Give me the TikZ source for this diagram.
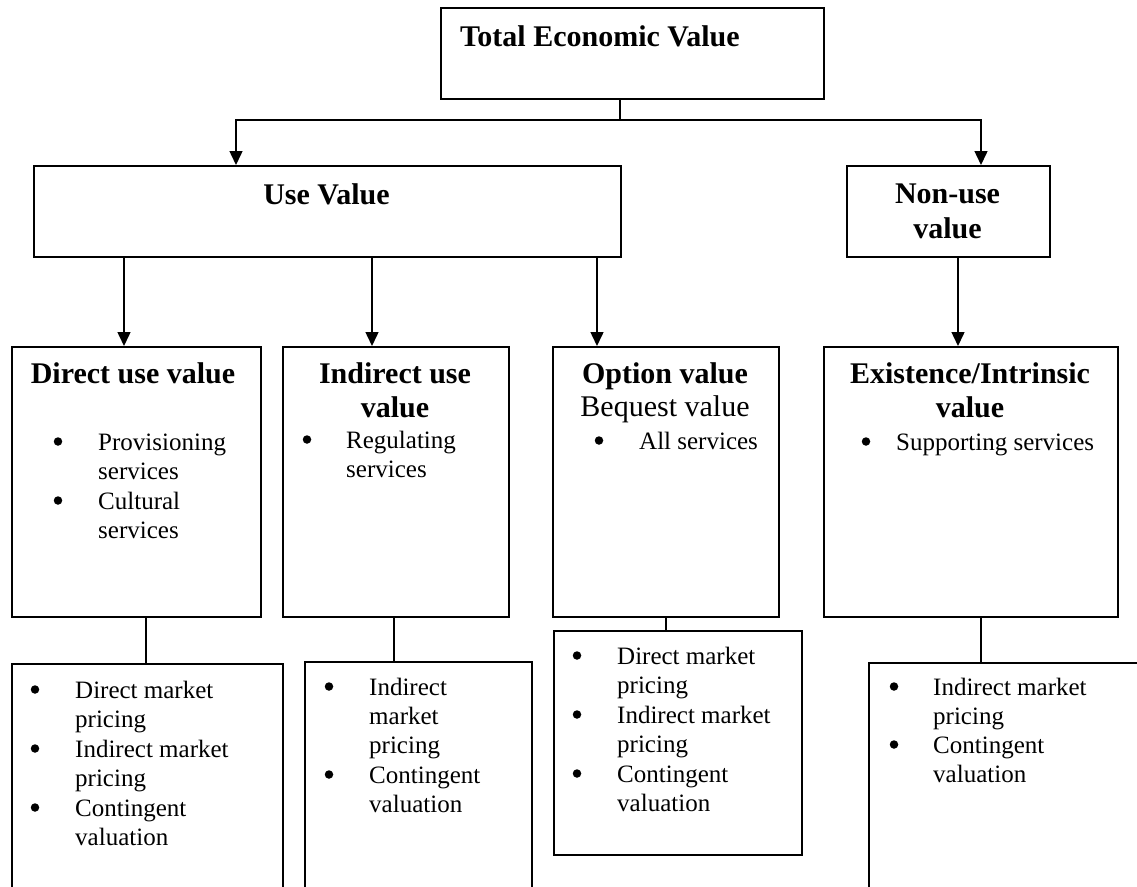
\documentclass[tikz,border=0pt]{standalone}
\usepackage{fontspec}
\setmainfont{Liberation Serif}
\usetikzlibrary{arrows.meta}

% type sizes: bold headings and plain body text
\newcommand\headfont{\fontsize{30}{34.5}\selectfont\bfseries}
\newcommand\plainbig{\fontsize{30}{34.5}\selectfont}
\newcommand\bodyfont{\fontsize{25}{29.3}\selectfont}

% a bulleted item: name, bullet x, text x, first baseline, lines
\newcommand\bitem[5]{%
  \node[dot] (#1-b) at (#2,{#4-8.5}) {};
  \foreach \ln [count=\k from 0] in {#5}{%
    \node[bodytxt, anchor=base west] (#1-\k) at (#3,{#4+\k*29.3}) {\ln};}%
}

% a box given by its top-left and bottom-right corners
\newcommand\boxnode[5]{%
  \node[box, anchor=north west, minimum width={#4-#2}, minimum height={#5-#3}] (#1) at (#2,#3) {};%
}

\begin{document}
\begin{tikzpicture}[x=1pt, y=-1pt,
  box/.style={draw=black, line width=1.5pt, inner sep=0pt, fill=none},
  link/.style={draw=black, line width=1.5pt},
  arr/.style={link, -{Triangle[width=13pt,length=14pt]}},
  headtxt/.style={inner sep=0pt, font=\headfont, anchor=base},
  bodytxt/.style={inner sep=0pt, font=\bodyfont},
  dot/.style={circle, fill=black, inner sep=0pt, minimum size=8.5pt},
  line join=miter]

\useasboundingbox (0,0) rectangle (1137,886);
\clip (0,0) rectangle (1137,886);
\fill[white] (0,0) rectangle (1137,886);

% ---- boxes ----
\boxnode{tev}{440}{7}{823}{98}
\boxnode{usev}{33}{165}{620}{256}
\boxnode{nonuse}{846}{165}{1049}{256}
\boxnode{direct}{11}{346}{260}{616}
\boxnode{indirect}{282}{346}{508}{616}
\boxnode{option}{552}{346}{778}{616}
\boxnode{exist}{823}{346}{1117}{616}
\boxnode{mdirect}{11}{663}{282}{900}
\boxnode{mindirect}{304}{661}{531}{900}
\boxnode{moption}{553}{630}{801}{854}
\boxnode{mexist}{868}{662}{1160}{900}

% ---- connector columns ----
\coordinate (split) at (620,120);
\coordinate (cUse) at (236,0);
\coordinate (cNon) at (981,0);
\coordinate (cDir) at (124,0);
\coordinate (cInd) at (372,0);
\coordinate (cOpt) at (597,0);
\coordinate (cEx) at (958,0);
\coordinate (mDir) at (146,0);
\coordinate (mInd) at (394,0);
\coordinate (mOpt) at (666,0);
\coordinate (mEx) at (981,0);

% ---- connectors ----
\draw[link] (tev.south -| split) -- (split);
\draw[arr] (split) -| (cUse |- usev.north);
\draw[arr] (split) -| (cNon |- nonuse.north);
\draw[arr] (usev.south -| cDir) -- (direct.north -| cDir);
\draw[arr] (usev.south -| cInd) -- (indirect.north -| cInd);
\draw[arr] (usev.south -| cOpt) -- (option.north -| cOpt);
\draw[arr] (nonuse.south -| cEx) -- (exist.north -| cEx);
\draw[link] (direct.south -| mDir) -- (mdirect.north -| mDir);
\draw[link] (indirect.south -| mInd) -- (mindirect.north -| mInd);
\draw[link] (option.south -| mOpt) -- (moption.north -| mOpt);
\draw[link] (exist.south -| mEx) -- (mexist.north -| mEx);

% ---- headings ----
\node[headtxt, anchor=base west] (tev-t) at (460,46) {Total Economic Value};
\node[headtxt] (usev-t) at (326.5,204) {Use Value};
\node[headtxt] (nonuse-t1) at (947.5,203) {Non-use};
\node[headtxt] (nonuse-t2) at (947.5,238) {value};
\node[headtxt] (direct-t) at (133,383) {Direct use value};
\node[headtxt] (indirect-t1) at (395,383) {Indirect use};
\node[headtxt] (indirect-t2) at (395,417) {value};
\node[headtxt] (option-t1) at (665,383) {Option value};
\node[headtxt, font=\plainbig] (option-t2) at (665,416) {Bequest value};
\node[headtxt] (exist-t1) at (970,383) {Existence/Intrinsic};
\node[headtxt] (exist-t2) at (970,417) {value};

% ---- service lists ----
\bitem{dirA}{58}{98}{450}{Provisioning,services}
\bitem{dirB}{58}{98}{509}{Cultural,services}
\bitem{indA}{307}{346}{448}{Regulating,services}
\bitem{optA}{599}{639}{449}{All services}
\bitem{exA}{866}{896}{450}{Supporting services}

% ---- valuation methods ----
\bitem{mdA}{35}{75}{698}{Direct market,pricing}
\bitem{mdB}{35}{75}{757}{Indirect market,pricing}
\bitem{mdC}{35}{75}{816}{Contingent,valuation}
\bitem{miA}{329}{369}{695}{Indirect,market,pricing}
\bitem{miB}{329}{369}{783}{Contingent,valuation}
\bitem{moA}{577}{617}{664}{Direct market,pricing}
\bitem{moB}{577}{617}{723}{Indirect market,pricing}
\bitem{moC}{577}{617}{782}{Contingent,valuation}
\bitem{meA}{894}{933}{695}{Indirect market,pricing}
\bitem{meB}{894}{933}{753}{Contingent,valuation}

\end{tikzpicture}
\end{document}
